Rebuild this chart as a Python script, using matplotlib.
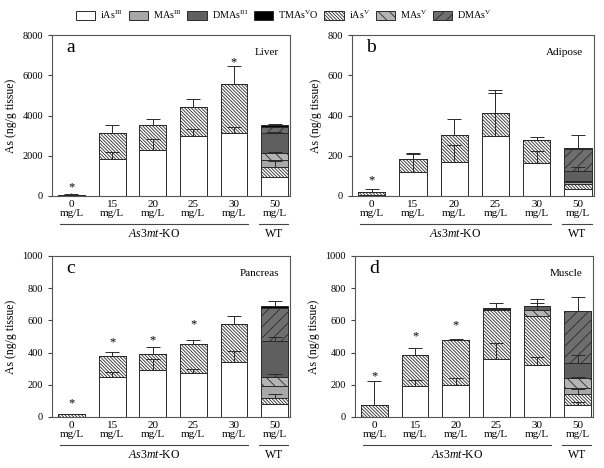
import numpy as np
import matplotlib
matplotlib.use('Agg')
import matplotlib.pyplot as plt
from matplotlib.patches import Patch

plt.rcParams['font.family'] = 'Liberation Serif'
plt.rcParams['mathtext.fontset'] = 'custom'
plt.rcParams['mathtext.rm'] = 'Liberation Serif'
plt.rcParams['mathtext.it'] = 'Liberation Serif:italic'
plt.rcParams['hatch.linewidth'] = 0.6

# doses / groups
doses = ['0\nmg/L', '15\nmg/L', '20\nmg/L', '25\nmg/L', '30\nmg/L', '50\nmg/L']
species = ['iAs$^{\\mathrm{III}}$', 'MAs$^{\\mathrm{III}}$', 'DMAs$^{\\mathrm{III}}$',
           'TMAs$^{\\mathrm{V}}$O', 'iAs$^{\\mathrm{V}}$', 'MAs$^{\\mathrm{V}}$', 'DMAs$^{\\mathrm{V}}$']

# Liver (ng/g tissue), stacking order bottom -> top
liver_iAs3 = [0, 1860, 2270, 2970, 3140, 950]
liver_iAs5 = [60, 1280, 1250, 1460, 2450, 500]
liver_MAs3 = [0, 0, 0, 0, 0, 350]
liver_MAs5 = [0, 0, 0, 0, 0, 350]
liver_DMAs3 = [0, 0, 0, 0, 0, 990]
liver_DMAs5 = [0, 0, 0, 0, 0, 300]
liver_TMAO = [0, 0, 0, 0, 0, 100]
liver_err_iAs3 = [0, 330, 580, 350, 300, 0]
liver_err_iAs5 = [30, 380, 330, 380, 870, 300]
liver_err_MAs5 = [0, 0, 0, 0, 0, 50]
liver_err_DMAs3 = [0, 0, 0, 0, 0, 50]
liver_err_TMAO = [0, 0, 0, 0, 0, 30]
liver_stars = [420, None, None, None, 6650, None]

# Adipose
adip_iAs3 = [3, 120, 170, 300, 165, 35]
adip_iAs5 = [17, 63, 132, 113, 112, 25]
adip_MAs3 = [0, 0, 0, 0, 0, 8]
adip_MAs5 = [0, 0, 0, 0, 0, 6]
adip_DMAs3 = [0, 0, 0, 0, 0, 50]
adip_DMAs5 = [0, 0, 0, 0, 0, 112]
adip_TMAO = [0, 0, 0, 0, 0, 3]
adip_err_iAs3 = [0, 87, 82, 213, 57, 0]
adip_err_iAs5 = [15, 32, 83, 113, 17, 0]
adip_err_MAs5 = [0, 0, 0, 0, 0, 0]
adip_err_DMAs3 = [0, 0, 0, 0, 0, 18]
adip_err_TMAO = [0, 0, 0, 0, 0, 62]
adip_stars = [80, None, None, None, None, None]

# Pancreas
panc_iAs3 = [3, 247, 293, 276, 344, 82]
panc_iAs5 = [17, 134, 101, 176, 231, 35]
panc_MAs3 = [0, 0, 0, 0, 0, 76]
panc_MAs5 = [0, 0, 0, 0, 0, 54]
panc_DMAs3 = [0, 0, 0, 0, 0, 227]
panc_DMAs5 = [0, 0, 0, 0, 0, 204]
panc_TMAO = [0, 0, 0, 0, 0, 12]
panc_err_iAs3 = [0, 35, 67, 23, 68, 0]
panc_err_iAs5 = [0, 21, 39, 26, 52, 25]
panc_err_MAs5 = [0, 0, 0, 0, 0, 20]
panc_err_DMAs3 = [0, 0, 0, 0, 0, 20]
panc_err_TMAO = [0, 0, 0, 0, 0, 30]
panc_stars = [87, 464, 478, 577, None, None]

# Muscle
musc_iAs3 = [0, 190, 200, 359, 320, 76]
musc_iAs5 = [72, 195, 278, 305, 307, 68]
musc_MAs3 = [0, 0, 0, 0, 0, 35]
musc_MAs5 = [0, 0, 0, 5, 37, 62]
musc_DMAs3 = [0, 0, 0, 5, 26, 97]
musc_DMAs5 = [0, 0, 0, 0, 0, 318]
musc_TMAO = [0, 0, 0, 0, 0, 4]
musc_err_iAs3 = [0, 40, 41, 103, 51, 20]
musc_err_iAs5 = [153, 42, 7, 0, 0, 30]
musc_err_MAs5 = [0, 0, 0, 0, 41, 10]
musc_err_DMAs3 = [0, 0, 0, 37, 40, 45]
musc_err_TMAO = [0, 0, 0, 0, 0, 86]
musc_stars = [250, 500, 571, None, None, None]

# style of each species: (face, hatch)
sty_iAs3 = ('white', None)
sty_iAs5 = ('white', '\\' * 10)
sty_MAs3 = ('#a8a8a8', None)
sty_MAs5 = ('#b4b4b4', '\\' * 3)
sty_DMAs3 = ('#5f5f5f', None)
sty_DMAs5 = ('#6e6e6e', '/' * 3)
sty_TMAO = ('black', None)

edge = '#2a2a2a'
x = np.arange(6)
w = 0.66


def drawPanel(ax, layers, errs, stars, ymax, ystep, letter, tissue):
    bottom = np.zeros(6)
    tops = []
    for vals, (fc, hatch) in layers:
        vals = np.array(vals, dtype=float)
        ax.bar(x, vals, w, bottom=bottom, color=fc, hatch=hatch,
               edgecolor=edge, linewidth=0.7, zorder=2)
        bottom = bottom + vals
        tops.append(bottom.copy())
    # error bars (upper only) on segment tops
    for idx, e in errs:
        e = np.array(e, dtype=float)
        m = e > 0
        ax.errorbar(x[m], tops[idx][m], yerr=[np.zeros(m.sum()), e[m]],
                    fmt='none', ecolor=edge, elinewidth=0.7, capsize=5,
                    capthick=0.7, zorder=3)
    for i, s in enumerate(stars):
        if s is not None:
            ax.text(x[i], s, '*', ha='center', va='center', fontsize=9)

    ax.set_xlim(-0.48, 5.38)
    ax.set_ylim(0, ymax)
    ax.set_yticks(np.arange(0, ymax + 1, ystep))
    ax.set_xticks(x)
    ax.set_xticklabels(doses, fontsize=8, linespacing=1.0)
    ax.tick_params(axis='y', labelsize=7.5, length=3, direction='out', color='#444')
    ax.tick_params(axis='x', length=2, direction='in', color='#444', pad=3)
    for sp in ax.spines.values():
        sp.set_color('#555')
        sp.set_linewidth(0.8)
    ax.set_ylabel('As (ng/g tissue)', fontsize=8.5, labelpad=4)
    ax.text(0.06, 0.92, letter, transform=ax.transAxes, fontsize=14, va='center')
    ax.text(0.955, 0.89, tissue, transform=ax.transAxes, fontsize=8, ha='right', va='center')

    # group lines below the axis
    tr = ax.get_xaxis_transform()
    ax.plot([-0.28, 4.34], [-0.175, -0.175], color='#444', lw=0.8, transform=tr, clip_on=False)
    ax.plot([4.62, 5.34], [-0.175, -0.175], color='#444', lw=0.8, transform=tr, clip_on=False)
    ax.text(2.03, -0.235, '$\\mathit{As3mt}$-KO', transform=tr, ha='center', va='center', fontsize=8.5)
    ax.text(4.98, -0.235, 'WT', transform=tr, ha='center', va='center', fontsize=8.5)


fig = plt.figure(figsize=(6.04, 4.68), dpi=100)
axA = fig.add_axes([0.0861, 0.5812, 0.394, 0.344])
axB = fig.add_axes([0.5828, 0.5812, 0.400, 0.344])
axC = fig.add_axes([0.0861, 0.109, 0.394, 0.344])
axD = fig.add_axes([0.5877, 0.109, 0.394, 0.344])

panels = [
    (axA, [liver_iAs3, liver_iAs5, liver_MAs3, liver_MAs5, liver_DMAs3, liver_DMAs5, liver_TMAO],
     [liver_err_iAs3, liver_err_iAs5, liver_err_MAs5, liver_err_DMAs3, liver_err_TMAO],
     liver_stars, 8000, 2000, 'a', 'Liver'),
    (axB, [adip_iAs3, adip_iAs5, adip_MAs3, adip_MAs5, adip_DMAs3, adip_DMAs5, adip_TMAO],
     [adip_err_iAs3, adip_err_iAs5, adip_err_MAs5, adip_err_DMAs3, adip_err_TMAO],
     adip_stars, 800, 200, 'b', 'Adipose'),
    (axC, [panc_iAs3, panc_iAs5, panc_MAs3, panc_MAs5, panc_DMAs3, panc_DMAs5, panc_TMAO],
     [panc_err_iAs3, panc_err_iAs5, panc_err_MAs5, panc_err_DMAs3, panc_err_TMAO],
     panc_stars, 1000, 200, 'c', 'Pancreas'),
    (axD, [musc_iAs3, musc_iAs5, musc_MAs3, musc_MAs5, musc_DMAs3, musc_DMAs5, musc_TMAO],
     [musc_err_iAs3, musc_err_iAs5, musc_err_MAs5, musc_err_DMAs3, musc_err_TMAO],
     musc_stars, 1000, 200, 'd', 'Muscle'),
]
styles = [sty_iAs3, sty_iAs5, sty_MAs3, sty_MAs5, sty_DMAs3, sty_DMAs5, sty_TMAO]
for ax, comps, errs, stars, ymax, ystep, letter, tissue in panels:
    layers = list(zip(comps, styles))
    # error arrays map onto layer index: iAs3=0, iAs5=1, MAs5=3, DMAs3=4, TMAO=6
    drawPanel(ax, layers, list(zip([0, 1, 3, 4, 6], errs)), stars, ymax, ystep, letter, tissue)

# legend at the top
leg_styles = [sty_iAs3, sty_MAs3, sty_DMAs3, sty_TMAO, sty_iAs5, sty_MAs5, sty_DMAs5]
handles = [Patch(facecolor=fc, hatch=h, edgecolor=edge, linewidth=0.7) for fc, h in leg_styles]
fig.legend(handles, species, loc='center', bbox_to_anchor=(0.47, 0.968), ncol=7,
           frameon=False, fontsize=7.3, handlelength=1.9, handleheight=0.9,
           columnspacing=0.55, handletextpad=0.5, borderpad=0.2)

fig.savefig('out.png', dpi=100)
